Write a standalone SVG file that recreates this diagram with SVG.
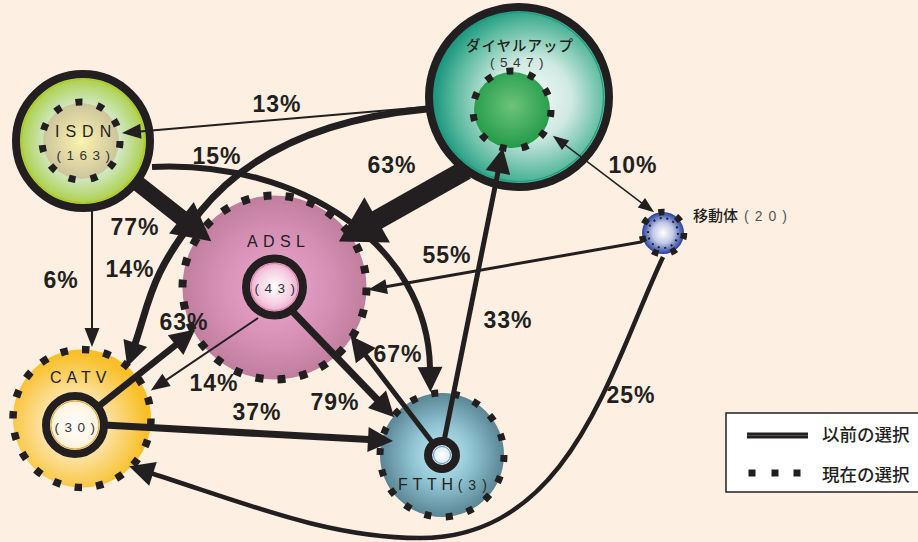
<svg xmlns="http://www.w3.org/2000/svg" width="918" height="542" viewBox="0 0 918 542">
  <defs>
    <style>
      .ink { fill: #231f20; }
      .dash { fill: none; stroke: #231f20; }
      .ln { fill: none; stroke: #231f20; stroke-linecap: butt; }
      .pct { font-family: "Liberation Sans", Arial, sans-serif; font-weight: bold; font-size: 23px; fill: #231f20; text-anchor: middle; letter-spacing: 1px; }
      .nm { font-family: "Liberation Sans", Arial, sans-serif; font-size: 16px; fill: #231f20; }
      .cnt { font-family: "Liberation Sans", Arial, sans-serif; font-size: 13.5px; fill: #333333; text-anchor: middle; letter-spacing: 5.5px; }
      .jp { font-family: "Noto Sans CJK JP", sans-serif; fill: #231f20; }
    </style>

    <!-- arrowheads, sized in user units; paths end at the arrow base -->
    <marker id="ah-xs" viewBox="0 0 16 12" refX="1" refY="6" markerWidth="16" markerHeight="12" markerUnits="userSpaceOnUse" orient="auto-start-reverse" overflow="visible">
      <path class="ink" d="M0,0 L16,6 L0,12 z"/>
    </marker>
    <marker id="ah-s" viewBox="0 0 19 15" refX="1" refY="7.5" markerWidth="19" markerHeight="15" markerUnits="userSpaceOnUse" orient="auto" overflow="visible">
      <path class="ink" d="M0,0 L19,7.5 L0,15 z"/>
    </marker>
    <marker id="ah-m" viewBox="0 0 25 25" refX="1" refY="12.5" markerWidth="25" markerHeight="25" markerUnits="userSpaceOnUse" orient="auto" overflow="visible">
      <path class="ink" d="M0,0 L25,12.5 L0,25 z"/>
    </marker>
    <marker id="ah-l" viewBox="0 0 38 40" refX="1" refY="20" markerWidth="38" markerHeight="40" markerUnits="userSpaceOnUse" orient="auto" overflow="visible">
      <path class="ink" d="M0,0 L38,20 L0,40 z"/>
    </marker>
    <marker id="ah-xl" viewBox="0 0 44 52" refX="1" refY="26" markerWidth="44" markerHeight="52" markerUnits="userSpaceOnUse" orient="auto" overflow="visible">
      <path class="ink" d="M0,0 L44,26 L0,52 z"/>
    </marker>

    <radialGradient id="g-dial" cx="56%" cy="52%" r="55%" fx="58%" fy="50%">
      <stop offset="0" stop-color="#f4f9f7"/>
      <stop offset="0.4" stop-color="#cfe9e2"/>
      <stop offset="0.78" stop-color="#56b89c"/>
      <stop offset="1" stop-color="#13907a"/>
    </radialGradient>
    <radialGradient id="g-dial-in" cx="50%" cy="45%" r="55%">
      <stop offset="0" stop-color="#6cc47a"/>
      <stop offset="1" stop-color="#239a4a"/>
    </radialGradient>
    <radialGradient id="g-isdn" cx="50%" cy="50%" r="50%">
      <stop offset="0" stop-color="#eef4ee"/>
      <stop offset="0.55" stop-color="#d2e8c6"/>
      <stop offset="1" stop-color="#a6cc38"/>
    </radialGradient>
    <radialGradient id="g-isdn-in" cx="50%" cy="50%" r="50%">
      <stop offset="0" stop-color="#fbf3ae"/>
      <stop offset="1" stop-color="#cdc49c"/>
    </radialGradient>
    <radialGradient id="g-adsl" cx="50%" cy="50%" r="50%">
      <stop offset="0" stop-color="#eca8ce"/>
      <stop offset="0.6" stop-color="#d690b6"/>
      <stop offset="1" stop-color="#c07e9e"/>
    </radialGradient>
    <radialGradient id="g-adsl-in" cx="50%" cy="50%" r="50%">
      <stop offset="0" stop-color="#ffffff"/>
      <stop offset="0.6" stop-color="#f6cfe2"/>
      <stop offset="1" stop-color="#e898c0"/>
    </radialGradient>
    <radialGradient id="g-catv" cx="45%" cy="55%" r="52%">
      <stop offset="0" stop-color="#ffffff"/>
      <stop offset="0.38" stop-color="#fde6b2"/>
      <stop offset="1" stop-color="#f8bf26"/>
    </radialGradient>
    <radialGradient id="g-catv-in" cx="50%" cy="50%" r="50%">
      <stop offset="0" stop-color="#ffffff"/>
      <stop offset="0.7" stop-color="#fff5e2"/>
      <stop offset="1" stop-color="#fbe3b0"/>
    </radialGradient>
    <radialGradient id="g-ftth" cx="50%" cy="50%" r="50%">
      <stop offset="0" stop-color="#c4ecf6"/>
      <stop offset="0.5" stop-color="#8fc3d2"/>
      <stop offset="1" stop-color="#5a8594"/>
    </radialGradient>
    <radialGradient id="g-ftth-in" cx="50%" cy="50%" r="50%">
      <stop offset="0" stop-color="#ffffff"/>
      <stop offset="1" stop-color="#c6ddf0"/>
    </radialGradient>
    <radialGradient id="g-mob" cx="50%" cy="50%" r="50%">
      <stop offset="0" stop-color="#ffffff"/>
      <stop offset="0.5" stop-color="#c0c8e6"/>
      <stop offset="1" stop-color="#2440a0"/>
    </radialGradient>
  </defs>

  <rect width="918" height="542" fill="#fdf0e2"/>

  <!-- nodes -->
  <g id="node-dialup">
    <circle cx="519" cy="97" r="90" fill="url(#g-dial)" stroke="#231f20" stroke-width="8"/>
    <circle cx="519" cy="97" r="84.5" fill="none" stroke="#1f9c7e" stroke-width="1.2"/>
    <circle cx="512" cy="110" r="38" fill="url(#g-dial-in)"/>
    <circle class="dash" cx="512" cy="110" r="39" stroke-width="7" pathLength="110" stroke-dasharray="3.14 6.86"/>
    <text class="jp" x="520" y="50.5" font-size="14.5" font-weight="500" text-anchor="middle" letter-spacing="1">ダイヤルアップ</text>
    <text class="cnt" x="519.5" y="66.5">(547)</text>
  </g>

  <g id="node-isdn">
    <circle cx="83" cy="141" r="67" fill="url(#g-isdn)" stroke="#231f20" stroke-width="8"/>
    <circle cx="83" cy="141" r="61.5" fill="none" stroke="#b4c81e" stroke-width="1.2"/>
    <circle cx="81" cy="141" r="38" fill="url(#g-isdn-in)"/>
    <circle class="dash" cx="81" cy="141" r="39" stroke-width="7" pathLength="110" stroke-dasharray="3.14 6.86"/>
    <text class="nm" x="55" y="137" letter-spacing="6">ISDN</text>
    <text class="cnt" x="86" y="160">(163)</text>
  </g>

  <g id="node-adsl">
    <circle cx="274.5" cy="287.5" r="92" fill="url(#g-adsl)"/>
    <circle class="dash" cx="274.5" cy="287.5" r="92" stroke-width="8" pathLength="260" stroke-dasharray="3.6 6.4"/>
    <text class="nm" x="247" y="247" letter-spacing="5.4">ADSL</text>
  </g>

  <g id="node-catv">
    <circle cx="82" cy="418.5" r="69" fill="url(#g-catv)"/>
    <circle class="dash" cx="82" cy="418.5" r="69" stroke-width="7.5" pathLength="200" stroke-dasharray="3.46 6.54"/>
    <text class="nm" x="50" y="383" letter-spacing="5">CATV</text>
  </g>

  <g id="node-ftth">
    <circle cx="442" cy="455" r="62" fill="url(#g-ftth)"/>
    <circle class="dash" cx="442" cy="455" r="62" stroke-width="7" pathLength="180" stroke-dasharray="3.23 6.77"/>
    <text class="nm" x="398" y="490"><tspan letter-spacing="4.7">FTTH</tspan><tspan font-size="14" fill="#2a2a2a" letter-spacing="6">(3)</tspan></text>
  </g>

  <g id="node-mobile">
    <circle cx="663" cy="233" r="21" fill="url(#g-mob)"/>
    <circle class="dash" cx="663" cy="233" r="21" stroke-width="6.5" pathLength="70" stroke-dasharray="3.3 6.7"/>
    <circle class="dash" cx="663" cy="233" r="15" stroke-width="2" pathLength="140" stroke-dasharray="2.97 7.03"/>
    <text class="jp" x="693" y="221" font-size="15" font-weight="500">移動体<tspan font-family="Liberation Sans, Arial, sans-serif" fill="#555" font-weight="400" font-size="14" letter-spacing="6" dx="6">(20)</tspan></text>
  </g>

  <!-- connectors -->
  <g id="connectors">
    <!-- dial-up -> ADSL 63% -->
    <path class="ln" d="M466,169.7 L376.3,220.4" stroke-width="20" marker-end="url(#ah-xl)"/>
    <!-- ISDN -> ADSL 77% -->
    <path class="ln" d="M135.7,181.8 L182.2,218.4" stroke-width="16" marker-end="url(#ah-l)"/>
    <!-- ISDN -> CATV 6% -->
    <path class="ln" d="M92,211 L92,329" stroke-width="2" marker-end="url(#ah-s)"/>
    <!-- dial-up -> ISDN 13% -->
    <path class="ln" d="M426,107 L139.9,131.4" stroke-width="2" marker-end="url(#ah-s)"/>
    <!-- dial-up -> CATV 14% -->
    <path class="ln" d="M427,109 C330,118 250,150 200,212 S150,300 135,344" stroke-width="7" marker-end="url(#ah-m)"/>
    <!-- ISDN -> FTTH 15% -->
    <path class="ln" d="M152,167 C300,160 428,245 430,368" stroke-width="6" marker-end="url(#ah-m)"/>
    <!-- CATV -> ADSL 63% -->
    <path class="ln" d="M98.5,406.4 L176.4,344.5" stroke-width="6.5" marker-end="url(#ah-m)"/>
    <!-- ADSL -> CATV 14% -->
    <path class="ln" d="M258,318 L165.7,380.4" stroke-width="2" marker-end="url(#ah-s)"/>
    <!-- CATV -> FTTH 37% -->
    <path class="ln" d="M104,425 L369,439.6" stroke-width="7" marker-end="url(#ah-m)"/>
    <!-- ADSL -> FTTH 79% -->
    <path class="ln" d="M293,312 L377.7,400" stroke-width="7" marker-end="url(#ah-m)"/>
    <!-- FTTH -> ADSL 67% -->
    <path class="ln" d="M433.5,443.9 L365.2,354.8" stroke-width="5" marker-end="url(#ah-m)"/>
    <!-- FTTH -> dial-up 33% -->
    <path class="ln" d="M444,441 L498.1,171.5" stroke-width="5" marker-end="url(#ah-m)"/>
    <!-- mobile -> ADSL 55% -->
    <path class="ln" d="M641,242 L385.7,286.7" stroke-width="3" marker-end="url(#ah-s)"/>
    <!-- mobile -> CATV 25% -->
    <path class="ln" d="M663,257 C610,370 570,538 420,538 C330,538 250,505 152,473.5" stroke-width="4.5" marker-end="url(#ah-m)"/>
    <!-- dial-up <-> mobile 10% -->
    <path class="ln" d="M564.8,144.7 L642.2,203.3" stroke-width="1.5" marker-start="url(#ah-xs)" marker-end="url(#ah-xs)"/>
  </g>

  <!-- inner cores drawn over the line ends -->
  <g id="core-adsl">
    <circle cx="274.5" cy="287" r="28.5" fill="url(#g-adsl-in)" stroke="#231f20" stroke-width="8"/>
    <circle cx="274.5" cy="287" r="23.5" fill="none" stroke="#d87aa8" stroke-width="1"/>
    <text class="cnt" x="277.5" y="293" letter-spacing="5">(43)</text>
  </g>
  <g id="core-catv">
    <circle cx="75" cy="425" r="29" fill="url(#g-catv-in)" stroke="#231f20" stroke-width="8"/>
    <circle cx="75" cy="425" r="24" fill="none" stroke="#d8a020" stroke-width="1"/>
    <text class="cnt" x="77.5" y="432" letter-spacing="5">(30)</text>
  </g>
  <g id="core-ftth">
    <circle cx="442" cy="455" r="14" fill="url(#g-ftth-in)" stroke="#231f20" stroke-width="8"/>
    <circle cx="442" cy="455" r="8.5" fill="none" stroke="#5a98b0" stroke-width="1"/>
  </g>

  <!-- percentage labels -->
  <g id="labels">
    <text class="pct" x="277" y="112">13%</text>
    <text class="pct" x="217" y="164">15%</text>
    <text class="pct" x="392" y="173">63%</text>
    <text class="pct" x="633" y="173">10%</text>
    <text class="pct" x="135" y="235">77%</text>
    <text class="pct" x="447" y="263">55%</text>
    <text class="pct" x="61" y="288">6%</text>
    <text class="pct" x="130" y="277">14%</text>
    <text class="pct" x="184" y="330">63%</text>
    <text class="pct" x="508" y="328">33%</text>
    <text class="pct" x="398" y="362">67%</text>
    <text class="pct" x="214" y="391">14%</text>
    <text class="pct" x="335" y="410">79%</text>
    <text class="pct" x="257" y="420">37%</text>
    <text class="pct" x="631" y="403">25%</text>
  </g>

  <!-- legend -->
  <g id="legend">
    <rect x="726" y="413" width="200" height="79" fill="#ffffff" stroke="#231f20" stroke-width="1.5"/>
    <line x1="747" y1="435.5" x2="808" y2="435.5" stroke="#231f20" stroke-width="6"/>
    <line x1="747" y1="435.5" x2="808" y2="435.5" stroke="#6a6a6a" stroke-width="0.7"/>
    <rect class="ink" x="748.5" y="469.5" width="7" height="7"/>
    <rect class="ink" x="771.5" y="469.5" width="7" height="7"/>
    <rect class="ink" x="793.5" y="469.5" width="7" height="7"/>
    <text class="jp" x="822" y="441" font-size="17.5" font-weight="500">以前の選択</text>
    <text class="jp" x="822" y="481" font-size="17.5" font-weight="500">現在の選択</text>
  </g>
</svg>
